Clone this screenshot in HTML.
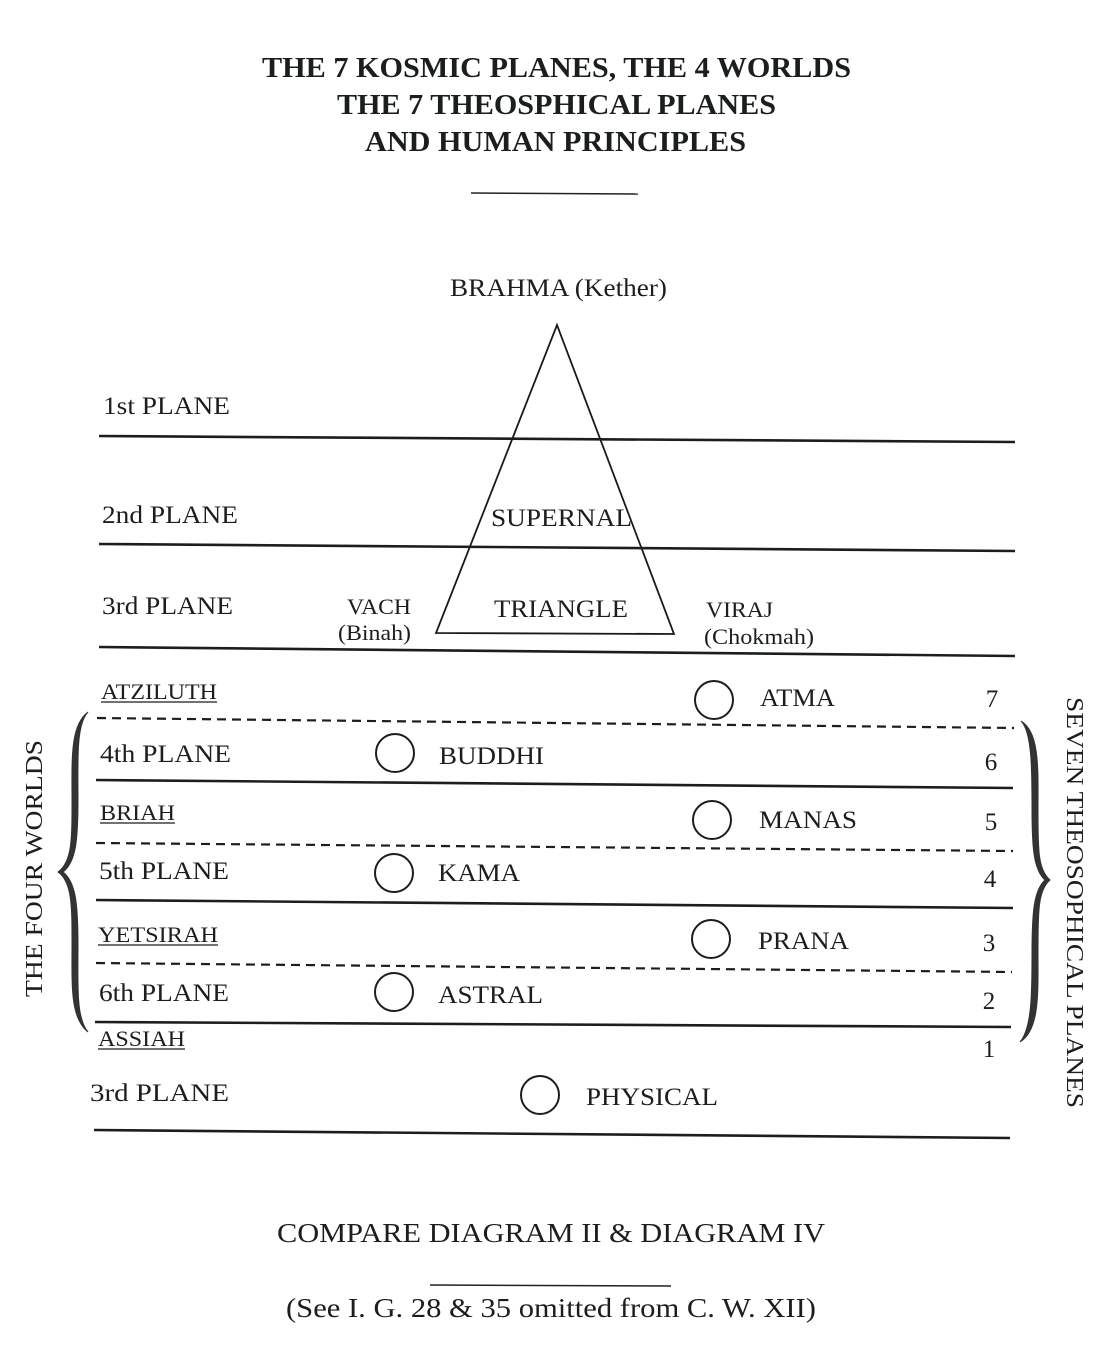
<!DOCTYPE html>
<html><head><meta charset="utf-8"><style>
html,body{margin:0;padding:0;background:#fff}
svg{display:block}
text{font-family:"Liberation Serif",serif;fill:#1a1f1c}
</style></head><body>
<svg width="1111" height="1372" viewBox="0 0 1111 1372" xmlns="http://www.w3.org/2000/svg">
<g font-weight="bold" font-size="29" lengthAdjust="spacingAndGlyphs">
<text x="262" y="77" textLength="589" lengthAdjust="spacingAndGlyphs">THE 7 KOSMIC PLANES, THE 4 WORLDS</text>
<text x="337" y="114" textLength="439" lengthAdjust="spacingAndGlyphs">THE 7 THEOSPHICAL PLANES</text>
<text x="365" y="151" textLength="381" lengthAdjust="spacingAndGlyphs">AND HUMAN PRINCIPLES</text>
</g>
<line x1="471" y1="193" x2="638" y2="194" stroke="#222" stroke-width="1.5"/>
<text x="450" y="296" font-size="25" textLength="217" lengthAdjust="spacingAndGlyphs">BRAHMA (Kether)</text>
<polygon points="557,325 436,633 674,634" fill="none" stroke="#1a1a1a" stroke-width="1.8"/>
<g stroke="#1a1f1c" stroke-width="2.6" fill="none">
<line x1="99" y1="436" x2="1015" y2="442"/>
<line x1="99" y1="544" x2="1015" y2="551"/>
<line x1="99" y1="647" x2="1015" y2="656"/>
<line x1="96" y1="780" x2="1013" y2="788"/>
<line x1="96" y1="900" x2="1013" y2="908"/>
<line x1="95" y1="1022" x2="1011" y2="1027"/>
<line x1="94" y1="1130" x2="1010" y2="1138"/>
<g stroke-dasharray="9,6" stroke-width="2.2">
<line x1="97" y1="718" x2="1014" y2="728"/>
<line x1="96" y1="843" x2="1013" y2="851"/>
<line x1="96" y1="963" x2="1012" y2="972"/>
</g>
</g>
<g font-size="25">
<text x="103" y="414" textLength="127" lengthAdjust="spacingAndGlyphs">1st PLANE</text>
<text x="102" y="523" textLength="136" lengthAdjust="spacingAndGlyphs">2nd PLANE</text>
<text x="102" y="614" textLength="131" lengthAdjust="spacingAndGlyphs">3rd PLANE</text>
<text x="100" y="762" textLength="131" lengthAdjust="spacingAndGlyphs">4th PLANE</text>
<text x="99" y="879" textLength="130" lengthAdjust="spacingAndGlyphs">5th PLANE</text>
<text x="99" y="1001" textLength="130" lengthAdjust="spacingAndGlyphs">6th PLANE</text>
<text x="90" y="1101" textLength="139" lengthAdjust="spacingAndGlyphs">3rd PLANE</text>
<text x="491" y="526" textLength="141" lengthAdjust="spacingAndGlyphs">SUPERNAL</text>
<text x="494" y="617" textLength="134" lengthAdjust="spacingAndGlyphs">TRIANGLE</text>
<text x="760" y="706" textLength="75" lengthAdjust="spacingAndGlyphs">ATMA</text>
<text x="439" y="764" textLength="105" lengthAdjust="spacingAndGlyphs">BUDDHI</text>
<text x="759" y="828" textLength="98" lengthAdjust="spacingAndGlyphs">MANAS</text>
<text x="438" y="881" textLength="82" lengthAdjust="spacingAndGlyphs">KAMA</text>
<text x="758" y="949" textLength="91" lengthAdjust="spacingAndGlyphs">PRANA</text>
<text x="438" y="1003" textLength="105" lengthAdjust="spacingAndGlyphs">ASTRAL</text>
<text x="586" y="1105" textLength="132" lengthAdjust="spacingAndGlyphs">PHYSICAL</text>
</g>
<g font-size="22">
<text x="347" y="614" textLength="64" lengthAdjust="spacingAndGlyphs">VACH</text>
<text x="338" y="640" textLength="73" lengthAdjust="spacingAndGlyphs">(Binah)</text>
<text x="706" y="617" textLength="67" lengthAdjust="spacingAndGlyphs">VIRAJ</text>
<text x="704" y="644" textLength="110" lengthAdjust="spacingAndGlyphs">(Chokmah)</text>
</g>
<g font-size="22">
<text x="101" y="699" textLength="116" lengthAdjust="spacingAndGlyphs">ATZILUTH</text>
<text x="100" y="820" textLength="75" lengthAdjust="spacingAndGlyphs">BRIAH</text>
<text x="98" y="942" textLength="120" lengthAdjust="spacingAndGlyphs">YETSIRAH</text>
<text x="98" y="1046" textLength="87" lengthAdjust="spacingAndGlyphs">ASSIAH</text>
</g>
<g stroke="#1a1f1c" stroke-width="1.3">
<line x1="101" y1="702" x2="217" y2="702"/>
<line x1="100" y1="823" x2="175" y2="823"/>
<line x1="98" y1="945" x2="218" y2="945"/>
<line x1="98" y1="1049" x2="185" y2="1049"/>
</g>
<g font-size="25" text-anchor="middle">
<text x="992" y="707">7</text>
<text x="991" y="770">6</text>
<text x="991" y="830">5</text>
<text x="990" y="887">4</text>
<text x="989" y="951">3</text>
<text x="989" y="1009">2</text>
<text x="989" y="1057">1</text>
</g>
<g fill="none" stroke="#1a1f1c" stroke-width="2">
<circle cx="714" cy="700" r="19"/>
<circle cx="395" cy="753" r="19"/>
<circle cx="712" cy="820" r="19"/>
<circle cx="394" cy="873" r="19"/>
<circle cx="711" cy="939" r="19"/>
<circle cx="394" cy="992" r="19"/>
<circle cx="540" cy="1095" r="19"/>
</g>
<path d="M88,712 C70,725 72,760 72,800 C72,840 72,862 58,872 C72,882 72,905 72,945 C72,985 70,1018 88,1032 C76,1018 78,985 78,945 C78,905 76,882 63,872 C76,862 78,840 78,800 C78,760 76,725 88,712 Z" fill="#333" stroke="#333" stroke-width="1"/>
<path d="M1021,721 C1040,732 1038,770 1038,810 C1038,850 1038,870 1050,880 C1038,890 1038,912 1038,952 C1038,992 1040,1030 1020,1042 C1032,1028 1032,992 1032,952 C1032,912 1034,890 1045,880 C1034,870 1032,850 1032,810 C1032,770 1032,732 1021,721 Z" fill="#333" stroke="#333" stroke-width="1"/>
<text x="-997" y="0" font-size="24" textLength="257" lengthAdjust="spacingAndGlyphs" transform="translate(42,0) rotate(-90)">THE FOUR WORLDS</text>
<text x="697" y="0" font-size="24" textLength="411" lengthAdjust="spacingAndGlyphs" transform="translate(1067,0) rotate(90)">SEVEN THEOSOPHICAL PLANES</text>
<text x="277" y="1242" font-size="27" textLength="548" lengthAdjust="spacingAndGlyphs">COMPARE DIAGRAM II &amp; DIAGRAM IV</text>
<line x1="430" y1="1285" x2="671" y2="1286" stroke="#222" stroke-width="1.5"/>
<text x="286" y="1317" font-size="27" textLength="530" lengthAdjust="spacingAndGlyphs">(See I. G. 28 &amp; 35 omitted from C. W. XII)</text>
</svg>
</body></html>
